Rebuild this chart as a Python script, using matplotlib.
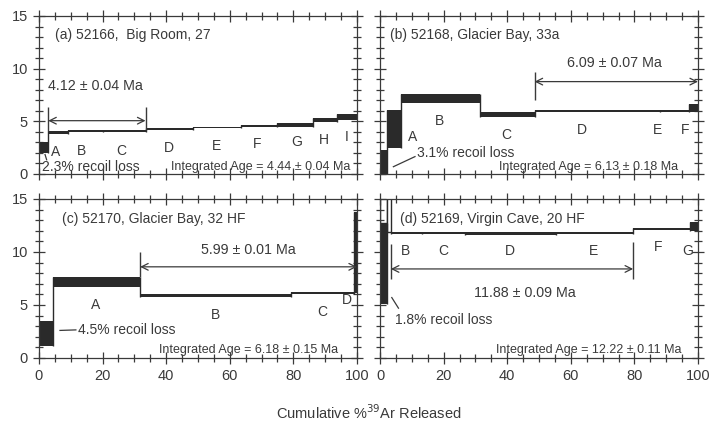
import numpy as np
import matplotlib.pyplot as plt
from matplotlib.ticker import MultipleLocator

plt.rcParams['font.family'] = ['Liberation Sans', 'DejaVu Sans']
INK = '#2a2a2a'
TXT = '#3a3a3a'

# step heating spectra: cumulative %39Ar edges, age low / high (Ma)
a_edges = [0, 2.7, 9.2, 20, 33.5, 48.5, 63.4, 75.0, 86.3, 93.6, 100]
a_lo = [2.0, 3.8, 4.0, 4.0, 4.18, 4.35, 4.5, 4.45, 4.9, 5.15]
a_hi = [3.0, 4.1, 4.18, 4.18, 4.32, 4.47, 4.63, 4.87, 5.28, 5.65]

b_edges = [0, 2.1, 6.5, 31.3, 48.6, 88, 97.3, 100]
b_lo = [0, 2.45, 6.7, 5.4, 5.85, 5.85, 5.85]
b_hi = [2.25, 6.1, 7.6, 5.9, 6.1, 6.1, 6.65]

c_edges = [0, 4.5, 31.8, 79.2, 99.0, 100]
c_lo = [1.15, 6.7, 5.8, 6.0, 6.1]
c_hi = [3.45, 7.6, 6.05, 6.22, 13.8]

d_edges = [0, 2.1, 3.4, 13.1, 26.7, 55.2, 79.6, 97.4, 100]
d_lo = [5.1, 11.8, 11.65, 11.65, 11.6, 11.65, 12.1, 12.0]
d_hi = [12.7, 11.85, 11.85, 11.85, 11.85, 11.85, 12.3, 12.8]
# off-scale (open) parts of the first two steps of (d)
d_open = [(0, 2.1, 12.7), (2.1, 3.4, 11.85)]

titles = ['(a) 52166,  Big Room, 27', '(b) 52168, Glacier Bay, 33a',
          '(c) 52170, Glacier Bay, 32 HF', '(d) 52169, Virgin Cave, 20 HF']
title_pos = [(5.0, 13.2), (3.1, 13.2), (7.1, 13.1), (6.3, 13.1)]

plateau_txt = ['4.12 \u00b1 0.04 Ma', '6.09 \u00b1 0.07 Ma', '5.99 \u00b1 0.01 Ma', '11.88 \u00b1 0.09 Ma']
plateau_x = [(2.9, 33.5), (48.6, 100), (31.8, 100), (3.4, 79.6)]
plateau_y = [5.06, 8.77, 8.6, 8.4]
plateau_txt_pos = [(17.6, 8.35), (73.7, 10.5), (65.9, 10.2), (45.5, 6.1)]
# vertical marker lines (x, y0, y1)
plateau_ticks = [[(2.9, 4.1, 6.4), (33.5, 4.2, 6.4)],
                 [(48.6, 7.0, 9.7)],
                 [(31.8, 7.6, 10.0)],
                 [(3.4, 7.45, 10.8), (79.6, 7.45, 10.9)]]

integ_txt = ['Integrated Age = 4.44 \u00b1 0.04 Ma', 'Integrated Age = 6.13 \u00b1 0.18 Ma',
             'Integrated Age = 6.18 \u00b1 0.15 Ma', 'Integrated Age = 12.22 \u00b1 0.11 Ma']
integ_pos = [(97.9, 0.7), (93.9, 0.7), (94.2, 0.8), (94.8, 0.8)]

recoil_txt = ['2.3% recoil loss', '3.1% recoil loss', '4.5% recoil loss', '1.8% recoil loss']
recoil_pos = [(0.8, 0.7), (11.7, 2.0), (12.4, 2.6), (4.7, 3.6)]
recoil_lead = [((1.9, 2.4), (1.85, 1.35)), ((4.2, 11.0), (0.69, 1.65)),
               ((6.6, 11.6), (2.6, 2.65)), ((3.7, 5.8), (5.7, 4.7))]

step_labels = [
    [('A', 5.3, 2.1), ('B', 13.4, 2.2), ('C', 26, 2.2), ('D', 41, 2.5), ('E', 55.7, 2.7),
     ('F', 68.5, 2.8), ('G', 81, 3.0), ('H', 89.5, 3.2), ('I', 96.8, 3.5)],
    [('A', 10.2, 3.5), ('B', 18.6, 5.0), ('C', 39.6, 3.7), ('D', 63.5, 4.2),
     ('E', 87.4, 4.2), ('F', 96, 4.2)],
    [('A', 17.9, 5.0), ('B', 55.4, 4.1), ('C', 89, 4.3), ('D', 96.8, 5.5)],
    [('B', 7.9, 10.1), ('C', 19.9, 10.1), ('D', 40.8, 10.1), ('E', 67, 10.1),
     ('F', 87.4, 10.5), ('G', 96.9, 10.1)],
]

spectra = [(a_edges, a_lo, a_hi), (b_edges, b_lo, b_hi),
           (c_edges, c_lo, c_hi), (d_edges, d_lo, d_hi)]

fig = plt.figure(figsize=(7.09, 4.23), dpi=100)
boxes = [[0.055, 0.5887, 0.4485, 0.3735], [0.536, 0.5887, 0.4485, 0.3735],
         [0.055, 0.1537, 0.4485, 0.3759], [0.536, 0.1537, 0.4485, 0.3759]]

for i, box in enumerate(boxes):
    ax = fig.add_axes(box)
    edges, lo, hi = spectra[i]
    edges = np.array(edges)
    lo = np.array(lo)
    hi = np.array(hi)
    w = np.diff(edges)
    ax.bar(edges[:-1], hi - lo, width=w, bottom=lo, align='edge',
           color=INK, linewidth=0, zorder=2)
    # vertical connectors between steps
    for k in range(1, len(edges) - 1):
        y0 = min(lo[k - 1], lo[k])
        y1 = max(hi[k - 1], hi[k])
        ax.vlines(edges[k], y0, y1, color=INK, lw=1.0, zorder=2)
    if i == 3:
        for x0, x1, yb in d_open:
            ax.bar(x0, 20 - yb, width=x1 - x0, bottom=yb, align='edge',
                   facecolor='white', edgecolor=INK, linewidth=1.0, zorder=1)

    # plateau arrow
    xa, xb = plateau_x[i]
    ax.annotate('', xy=(xa, plateau_y[i]), xytext=(xb, plateau_y[i]),
                arrowprops=dict(arrowstyle='<->', lw=0.9, color=TXT,
                                shrinkA=0, shrinkB=0, mutation_scale=12))
    for x, y0, y1 in plateau_ticks[i]:
        ax.vlines(x, y0, y1, color=TXT, lw=1.0)
    ax.text(*plateau_txt_pos[i], plateau_txt[i], ha='center', va='center',
            fontsize=10.3, color=TXT)

    ax.text(*title_pos[i], titles[i], ha='left', va='center', fontsize=10, color=TXT)
    ax.text(*integ_pos[i], integ_txt[i], ha='right', va='center', fontsize=9, color=TXT)
    ax.text(*recoil_pos[i], recoil_txt[i], ha='left', va='center', fontsize=10, color=TXT)
    lx, ly = recoil_lead[i]
    ax.plot(lx, ly, color=TXT, lw=0.9)
    for s, x, y in step_labels[i]:
        ax.text(x, y, s, ha='center', va='center', fontsize=10, color=TXT)

    ax.set_xlim(0, 100)
    ax.set_ylim(0, 15)
    ax.xaxis.set_major_locator(MultipleLocator(20))
    ax.xaxis.set_minor_locator(MultipleLocator(5))
    ax.yaxis.set_major_locator(MultipleLocator(5))
    ax.yaxis.set_minor_locator(MultipleLocator(1))
    ax.tick_params(which='both', direction='inout', top=True, right=True,
                   color=TXT, width=0.9, labelsize=10.5, labelcolor=TXT)
    ax.tick_params(which='major', length=9)
    ax.tick_params(which='minor', length=6)
    ax.tick_params(labelleft=(i % 2 == 0), labelbottom=(i >= 2))
    for sp in ax.spines.values():
        sp.set_color(TXT)
        sp.set_linewidth(0.9)

fig.text(0.52, 0.025, 'Cumulative %$^{39}$Ar Released', ha='center', va='center',
         fontsize=10.5, color=TXT)

fig.savefig('out.png', dpi=100)
